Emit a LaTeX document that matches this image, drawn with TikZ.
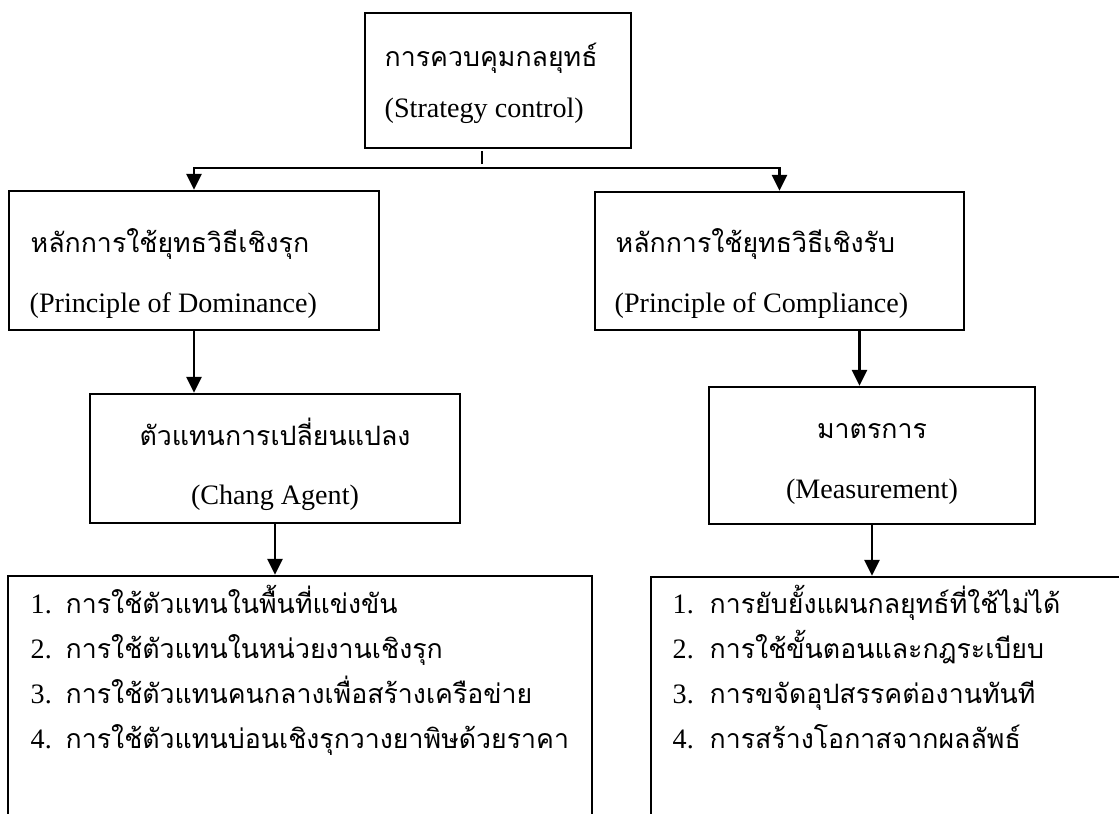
\documentclass[tikz,border=0pt]{standalone}
\usepackage{fontspec}
\setmainfont{Liberation Serif}
\newfontfamily\thaifont[Script=Thai,Scale=0.95]{Loma}
\usetikzlibrary{arrows.meta,positioning}

\begin{document}
\begin{tikzpicture}[
    box/.style={draw, line width=0.7pt, inner sep=0pt},
    link/.style={line width=0.85pt, -{Triangle[width=0.15cm,length=0.16cm]}},
    txt/.style={anchor=base west, inner sep=0pt},
    mid/.style={anchor=base, inner sep=0pt},
    font=\fontsize{8}{9.6}\selectfont
  ]
  \useasboundingbox (0,0) rectangle (11.19,-8.14);
  \clip (0,0) rectangle (11.19,-8.14);

  \node[box, minimum width=2.66cm, minimum height=1.35cm] (control) at (4.98,-0.805) {};
  \node[txt] (control_th) at (3.84,-0.67) {\thaifont การควบคุมกลยุทธ์};
  \node[txt] (control_en) at (3.84,-1.18) {(Strategy control)};

  \node[box, minimum width=3.70cm, minimum height=1.39cm] (dominance) at (1.94,-2.605) {};
  \node[txt] (dominance_th) at (0.30,-2.53) {\thaifont หลักการใช้ยุทธวิธีเชิงรุก};
  \node[txt] (dominance_en) at (0.29,-3.12) {(Principle of Dominance)};

  \node[box, minimum width=3.69cm, minimum height=1.38cm] (compliance) at (7.795,-2.61) {};
  \node[txt] (compliance_th) at (6.15,-2.53) {\thaifont หลักการใช้ยุทธวิธีเชิงรับ};
  \node[txt] (compliance_en) at (6.14,-3.12) {(Principle of Compliance)};

  \node[box, minimum width=3.70cm, minimum height=1.29cm] (agent) at (2.75,-4.585) {};
  \node[mid] (agent_th) at (2.75,-4.45) {\thaifont ตัวแทนการเปลี่ยนแปลง};
  \node[mid] (agent_en) at (2.75,-5.05) {(Chang Agent)};

  \node[box, minimum width=3.26cm, minimum height=1.37cm] (measure) at (8.72,-4.555) {};
  \node[mid] (measure_th) at (8.72,-4.39) {\thaifont มาตรการ};
  \node[mid] (measure_en) at (8.72,-4.98) {(Measurement)};

  \node[box, minimum width=5.84cm, minimum height=2.54cm] (tactics) at (3.00,-7.03) {};
  \node[txt] (tactics_1) at (0.30,-6.13) {\makebox[0.35cm][l]{1.}\thaifont การใช้ตัวแทนในพื้นที่แข่งขัน};
  \node[txt] (tactics_2) at (0.30,-6.58) {\makebox[0.35cm][l]{2.}\thaifont การใช้ตัวแทนในหน่วยงานเชิงรุก};
  \node[txt] (tactics_3) at (0.30,-7.03) {\makebox[0.35cm][l]{3.}\thaifont การใช้ตัวแทนคนกลางเพื่อสร้างเครือข่าย};
  \node[txt] (tactics_4) at (0.30,-7.48) {\makebox[0.35cm][l]{4.}\thaifont การใช้ตัวแทนบ่อนเชิงรุกวางยาพิษด้วยราคา};

  \node[box, minimum width=4.79cm, minimum height=2.53cm] (remedies) at (8.905,-7.035) {};
  \node[txt] (remedies_1) at (6.72,-6.13) {\makebox[0.37cm][l]{1.}\thaifont การยับยั้งแผนกลยุทธ์ที่ใช้ไม่ได้};
  \node[txt] (remedies_2) at (6.72,-6.58) {\makebox[0.37cm][l]{2.}\thaifont การใช้ขั้นตอนและกฎระเบียบ};
  \node[txt] (remedies_3) at (6.72,-7.03) {\makebox[0.37cm][l]{3.}\thaifont การขจัดอุปสรรคต่องานทันที};
  \node[txt] (remedies_4) at (6.72,-7.48) {\makebox[0.37cm][l]{4.}\thaifont การสร้างโอกาสจากผลลัพธ์};

  \coordinate (split) at (4.82,-1.68);
  \draw[line width=0.5pt] (split) ++(0,0.04) -- ++(0,0.13);
  \draw[link] (split) -| (dominance.north);
  \draw[link] (split) -| (compliance.north);
  \draw[link] (dominance.south) -- (dominance.south |- agent.north);
  \draw[link] ([xshift=0.8cm]compliance.south) -- ([xshift=0.8cm]compliance.south |- measure.north);
  \draw[link] (agent.south) -- (agent.south |- tactics.north);
  \draw[link] (measure.south) -- (measure.south |- remedies.north);
\end{tikzpicture}
\end{document}
